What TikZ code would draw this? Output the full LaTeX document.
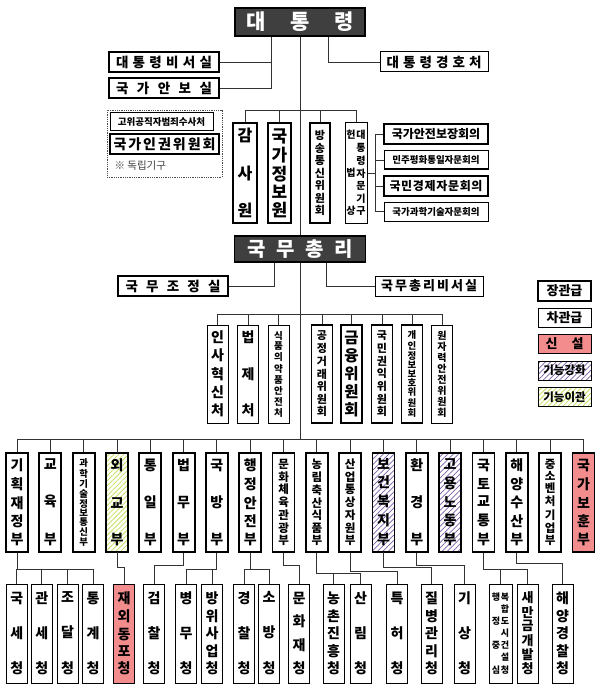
\documentclass[tikz,border=0pt]{standalone}
\usepackage{fontspec}
\setmainfont{Noto Sans CJK KR}
\usetikzlibrary{positioning,patterns.meta}

\definecolor{chiefgray}{HTML}{3F3F3F}
\definecolor{newred}{HTML}{F38D8D}
\definecolor{hatchviolet}{HTML}{7B5EA7}
\definecolor{hatchlime}{HTML}{C6E063}
\definecolor{linkgray}{HTML}{333333}

\newcommand{\fz}[1]{\fontsize{#1}{#1}\selectfont\bfseries}
\newcommand{\nx}{\par\vfill}
\newcommand{\vt}[2]{\parbox[c][#1][s]{1em}{\offinterlineskip\centering #2}}

\begin{document}
\begin{tikzpicture}[x=1pt,y=-1pt,
    link/.style={draw=linkgray,line width=0.9pt},
    chief/.style={draw=black,fill=chiefgray,text=white,line width=1.2pt,inner sep=0},
    major/.style={draw=black,line width=1.8pt,fill=white,inner sep=0},
    minor/.style={draw=black,line width=1pt,fill=white,inner sep=0},
    newbox/.style={fill=newred},
    strong/.style={pattern={Lines[angle=45,distance=3.8pt,line width=0.7pt]},pattern color=hatchviolet},
    shifted/.style={pattern={Lines[angle=45,distance=3.5pt,line width=0.8pt]},pattern color=hatchlime},
    usual/.style={},
    wide/.style={minimum width=#1,minimum height=20}]
    \useasboundingbox (0,0) rectangle (600,687);

    % President
    \node[chief,minimum width=130,minimum height=28,font=\fz{21}] (pres) at (300,22) {\makebox[108pt]{대\hfill 통\hfill 령}};
    \node[major,wide=110,font=\fz{13.5}] (psec) at (164,62) {\makebox[96pt]{대\hfill 통\hfill 령\hfill 비\hfill 서\hfill 실}};
    \node[major,wide=110,font=\fz{13.5}] (nsec) at (164,88) {\makebox[96pt]{국\hfill 가\hfill 안\hfill 보\hfill 실}};
    \node[minor,wide=108,font=\fz{13.5}] (guard) at (434,62) {\makebox[95pt]{대\hfill 통\hfill 령\hfill 경\hfill 호\hfill 처}};
    \draw[link] ([xshift=-29pt]pres.south) |- (psec.east);
    \draw[link] ([xshift=-29pt]pres.south) |- (nsec.east);
    \draw[link] ([xshift=28pt]pres.south) |- (guard.west);

    % Independent bodies
    \node[draw=black!70,densely dotted,line width=0.8pt,minimum width=115,minimum height=67,inner sep=0] (indep) at (164.5,143.5) {};
    \node[minor,minimum width=103,minimum height=18,font=\fz{9.5}] (cio) at (161.5,122) {고위공직자범죄수사처};
    \node[major,wide=109,font=\fz{14}] (hr) at (164.5,144) {\makebox[102pt]{국\hfill 가\hfill 인\hfill 권\hfill 위\hfill 원\hfill 회}};
    \node[anchor=west,font=\fontsize{10.5}{10.5}\selectfont,text=black!75] (note) at (111,166) {※ 독립기구};

    % Under the president
    \node[major,minimum width=24,minimum height=100,font=\fz{16}] (audit) at (245,173) {\vt{88pt}{감\nx 사\nx 원}};
    \node[major,minimum width=23,minimum height=100,font=\fz{17}] (nis) at (279.5,173) {\vt{88pt}{국\nx 가\nx 정\nx 보\nx 원}};
    \node[major,minimum width=20,minimum height=100,font=\fz{11}] (kcc) at (320,173) {\vt{84pt}{방\nx 송\nx 통\nx 신\nx 위\nx 원\nx 회}};
    \node[minor,minimum width=22,minimum height=100,font=\fz{10}] (advis) at (356,173) {\vt{84pt}{헌\nx 법\nx 상}\vt{84pt}{대\nx 통\nx 령\nx 자\nx 문\nx 기\nx 구}};
    \draw[link] (audit.north) -- (audit.north |- 0,110) -- (advis.north |- 0,110) -- (advis.north);
    \draw[link] (nis.north) -- (nis.north |- 0,110);
    \draw[link] (kcc.north) -- (kcc.north |- 0,110);

    % Advisory councils
    \coordinate (cbus) at (375,0);
    \node[major,minimum width=104,minimum height=20,font=\fz{12}] (nsc) at (436,134) {국가안전보장회의};
    \node[minor,minimum width=104,minimum height=18,font=\fz{9.5}] (puac) at (436,160) {민주평화통일자문회의};
    \node[major,minimum width=104,minimum height=20,font=\fz{12}] (nesc) at (436,186) {\makebox[93pt]{국\hfill 민\hfill 경\hfill 제\hfill 자\hfill 문\hfill 회\hfill 의}};
    \node[minor,minimum width=104,minimum height=19,font=\fz{9.5}] (pacst) at (436,211.5) {국가과학기술자문회의};
    \draw[link] (nsc.west) -- (nsc.west -| cbus) -- (pacst.west -| cbus) -- (pacst.west);
    \draw[link] (puac.west) -- (puac.west -| cbus);
    \draw[link] (nesc.west) -- (nesc.west -| cbus);
    \draw[link] (advis.east) -- (advis.east -| cbus);

    % Prime minister
    \node[chief,minimum width=131,minimum height=26,font=\fz{20}] (pm) at (300,249) {\makebox[105pt]{국\hfill 무\hfill 총\hfill 리}};
    \draw[link] (pres.south) -- (pm.north);
    \node[major,wide=110,font=\fz{13.5}] (opc) at (173,286) {\makebox[95pt]{국\hfill 무\hfill 조\hfill 정\hfill 실}};
    \node[minor,wide=108,font=\fz{13}] (pmsec) at (429,286) {\makebox[96pt]{국\hfill 무\hfill 총\hfill 리\hfill 비\hfill 서\hfill 실}};
    \draw[link] ([xshift=-26pt]pm.south) |- (opc.east);
    \draw[link] ([xshift=26pt]pm.south) |- (pmsec.west);

    % Ministries and commissions under the prime minister
    \foreach \nm/\x/\txt/\fs/\st in {
        mpm/217.5/{인\nx 사\nx 혁\nx 신\nx 처}/14/minor,
        moleg/248/{법\nx 제\nx 처}/14/minor,
        mfds/278.5/{식\nx 품\nx 의\nx 약\nx 품\nx 안\nx 전\nx 처}/9.5/minor,
        ftc/322/{공\nx 정\nx 거\nx 래\nx 위\nx 원\nx 회}/11/major,
        fsc/351.5/{금\nx 융\nx 위\nx 원\nx 회}/15.5/major,
        acrc/382/{국\nx 민\nx 권\nx 익\nx 위\nx 원\nx 회}/11/major,
        pipc/412/{개\nx 인\nx 정\nx 보\nx 보\nx 호\nx 위\nx 원\nx 회}/9.4/major,
        nssc/442/{원\nx 자\nx 력\nx 안\nx 전\nx 위\nx 원\nx 회}/10/minor}
        \node[\st,minimum width=21,minimum height=98,font=\fz{\fs}] (\nm) at (\x,374) {\vt{85pt}{\txt}};
    \draw[link] (mpm.north) -- (mpm.north |- 0,314) -- (nssc.north |- 0,314) -- (nssc.north);
    \foreach \nm in {moleg,mfds,ftc,fsc,acrc,pipc}
        \draw[link] (\nm.north) -- (\nm.north |- 0,314);

    % Ministries
    \foreach \txt/\fs/\st [count=\i from 0] in {
        {기\nx 획\nx 재\nx 정\nx 부}/14/usual,
        {교\nx 육\nx 부}/14/usual,
        {과\nx 학\nx 기\nx 술\nx 정\nx 보\nx 통\nx 신\nx 부}/9.4/usual,
        {외\nx 교\nx 부}/14/shifted,
        {통\nx 일\nx 부}/14/usual,
        {법\nx 무\nx 부}/14/usual,
        {국\nx 방\nx 부}/14/usual,
        {행\nx 정\nx 안\nx 전\nx 부}/14/usual,
        {문\nx 화\nx 체\nx 육\nx 관\nx 광\nx 부}/11.5/usual,
        {농\nx 림\nx 축\nx 산\nx 식\nx 품\nx 부}/11.5/usual,
        {산\nx 업\nx 통\nx 상\nx 자\nx 원\nx 부}/11.5/usual,
        {보\nx 건\nx 복\nx 지\nx 부}/14/strong,
        {환\nx 경\nx 부}/14/usual,
        {고\nx 용\nx 노\nx 동\nx 부}/14/strong,
        {국\nx 토\nx 교\nx 통\nx 부}/14/usual,
        {해\nx 양\nx 수\nx 산\nx 부}/14/usual,
        {중\nx 소\nx 벤\nx 처\nx 기\nx 업\nx 부}/11.5/usual,
        {국\nx 가\nx 보\nx 훈\nx 부}/14/newbox}
        \node[major,\st,minimum width=22,minimum height=99,font=\fz{\fs}] (m\i) at ({17+33.32*\i},502.5) {\vt{86pt}{\txt}};
    \draw[link] (pm.south) -- (pm.south |- 0,439);
    \draw[link] (m0.north) -- (m0.north |- 0,439) -- (m17.north |- 0,439) -- (m17.north);
    \foreach \i in {1,...,16}
        \draw[link] (m\i.north) -- (m\i.north |- 0,439);

    % Agencies
    \foreach \nm/\x/\txt/\fs/\st in {
        a1/16.7/{국\nx 세\nx 청}/14/usual,
        a2/41.7/{관\nx 세\nx 청}/14/usual,
        a3/67.5/{조\nx 달\nx 청}/14/usual,
        a4/93/{통\nx 계\nx 청}/14/usual,
        a5/124/{재\nx 외\nx 동\nx 포\nx 청}/14/newbox,
        a6/154/{검\nx 찰\nx 청}/14/usual,
        a7/186/{병\nx 무\nx 청}/14/usual,
        a8/212/{방\nx 위\nx 사\nx 업\nx 청}/14/usual,
        a9/244/{경\nx 찰\nx 청}/14/usual,
        a10/269/{소\nx 방\nx 청}/14/usual,
        a11/299/{문\nx 화\nx 재\nx 청}/14/usual,
        a12/333.5/{농\nx 촌\nx 진\nx 흥\nx 청}/14/usual,
        a13/360.5/{산\nx 림\nx 청}/14/usual,
        a14/397/{특\nx 허\nx 청}/14/usual,
        a15/431.5/{질\nx 병\nx 관\nx 리\nx 청}/14/usual,
        a16/464.5/{기\nx 상\nx 청}/14/usual,
        a18/527.5/{새\nx 만\nx 금\nx 개\nx 발\nx 청}/13/usual,
        a19/562.5/{해\nx 양\nx 경\nx 찰\nx 청}/14/usual}
        \node[minor,\st,minimum width=21,minimum height=99,font=\fz{\fs}] (\nm) at (\x,633.5) {\vt{82pt}{\txt}};
    \node[minor,minimum width=23,minimum height=99,font=\fz{9}] (a17) at (500.5,633.5) {\vt{80pt}{행\nx 정\nx 중\nx 심}\vt{80pt}{복\nx 합\nx 도\nx 시\nx 건\nx 설\nx 청}};

    % Ministry to agency links
    \draw[link] (m0.south) -- (m0.south |- 0,569) -- (a4.north |- 0,569) -- (a4.north);
    \foreach \nm in {a1,a2,a3}
        \draw[link] (\nm.north) -- (\nm.north |- 0,569);
    \draw[link] (m3.south) -- (m3.south |- 0,567) -| (a5.north);
    \draw[link] (m5.south) -- (m5.south |- 0,565) -| (a6.north);
    \draw[link] (m6.south) -- (m6.south |- 0,569) -| (a7.north);
    \draw[link] (a8.north) -- (a8.north |- 0,569);
    \draw[link] (m7.south) -- (m7.south |- 0,569);
    \draw[link] (a9.north) -- (a9.north |- 0,569) -- (a10.north |- 0,569) -- (a10.north);
    \draw[link] (m8.south) -- (m8.south |- 0,565) -| (a11.north);
    \draw[link] (m9.south) -- (m9.south |- 0,573) -| (a13.north);
    \draw[link] (a12.north) -- (a12.north |- 0,573);
    \draw[link] (m10.south) -- (m10.south |- 0,571) -| (a14.north);
    \draw[link] (m11.south) -- (m11.south |- 0,567) -| (a15.north);
    \draw[link] (m12.south) -- (m12.south |- 0,565) -| (a16.north);
    \draw[link] (m14.south) -- (m14.south |- 0,569) -| (a18.north);
    \draw[link] (a17.north) -- (a17.north |- 0,569);
    \draw[link] (m15.south) -- (m15.south |- 0,563) -| (a19.north);

    % Legend
    \node[major,minimum width=53,minimum height=20,font=\fz{13}] (lgmajor) at (564.5,291) {장관급};
    \node[minor,minimum width=53,minimum height=19,font=\fz{13}] (lgminor) at (564.5,317.5) {차관급};
    \node[minor,newbox,minimum width=53,minimum height=19,font=\fz{13}] (lgnew) at (564.5,343.5) {\makebox[38pt]{신\hfill 설}};
    \node[minor,strong,minimum width=53,minimum height=19,font=\fz{11.5}] (lgstrong) at (564.5,370.5) {기능강화};
    \node[minor,shifted,minimum width=53,minimum height=19,font=\fz{11.5}] (lgshift) at (564.5,397) {기능이관};
\end{tikzpicture}
\end{document}
